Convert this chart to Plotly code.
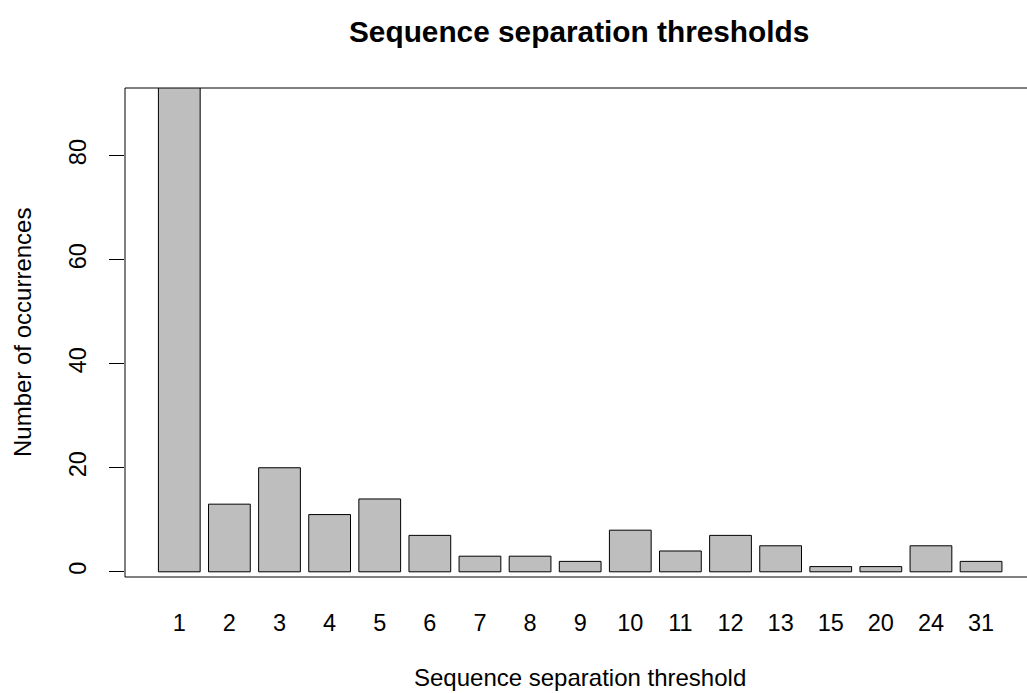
import plotly.graph_objects as go

# Data
thresholds = ["1", "2", "3", "4", "5", "6", "7", "8", "9", "10", "11", "12", "13", "15", "20", "24", "31"]
occurrences = [98, 13, 20, 11, 14, 7, 3, 3, 2, 8, 4, 7, 5, 1, 1, 5, 2]
y_ticks = [0, 20, 40, 60, 80]

# R barplot-style positions: width 1, space 0.2
centers = [0.7 + 1.2 * i for i in range(len(thresholds))]

FONT = "Liberation Sans, Arial, Helvetica, sans-serif"

fig = go.Figure(
    go.Bar(
        x=centers,
        y=occurrences,
        width=1.0,
        marker=dict(color="#BEBEBE", line=dict(color="black", width=1)),
        hoverinfo="skip",
    )
)

fig.update_layout(
    width=1027,
    height=693,
    margin=dict(l=125, r=0, t=88, b=116),
    paper_bgcolor="white",
    plot_bgcolor="white",
    showlegend=False,
    font=dict(family=FONT, size=24, color="black"),
    xaxis=dict(
        range=[-0.6, 21.0],
        tickmode="array",
        tickvals=centers,
        ticktext=thresholds,
        ticks="",
        showgrid=False,
        zeroline=False,
        showline=False,
        ticklabelstandoff=29,
        tickfont=dict(size=23.5),
    ),
    yaxis=dict(
        range=[-1.0, 93.0],
        tickmode="array",
        tickvals=y_ticks,
        ticktext=[str(v) for v in y_ticks],
        ticks="outside",
        ticklen=15,
        tickwidth=1,
        tickcolor="black",
        tickangle=-90,
        showgrid=False,
        zeroline=False,
        showline=False,
        tickfont=dict(size=23.5),
        ticklabelstandoff=14,
    ),
    shapes=[
        dict(type="line", xref="paper", yref="paper", x0=0, x1=1.02, y0=1, y1=1,
             line=dict(color="black", width=1)),
        dict(type="line", xref="paper", yref="paper", x0=0, x1=1.02, y0=0, y1=0,
             line=dict(color="black", width=1)),
        dict(type="line", xref="paper", yref="paper", x0=0, x1=0, y0=0, y1=1,
             line=dict(color="black", width=1)),
    ],
    annotations=[
        dict(text="<b>Sequence separation thresholds</b>", xref="paper", yref="paper",
             x=(579 - 125) / 902, y=1 + (88 - 31) / 489, xanchor="center", yanchor="middle",
             showarrow=False, font=dict(size=29.8, family=FONT)),
        dict(text="Sequence separation threshold", xref="paper", yref="paper",
             x=(580 - 125) / 902, y=-(677 - 577) / 489, xanchor="center", yanchor="middle",
             showarrow=False, font=dict(size=24, family=FONT)),
        dict(text="Number of occurrences", xref="paper", yref="paper",
             x=-(125 - 22) / 902, y=(577 - 333) / 489, xanchor="center", yanchor="middle",
             textangle=-90, showarrow=False, font=dict(size=24, family=FONT)),
    ],
)

fig.write_html("out.html")
